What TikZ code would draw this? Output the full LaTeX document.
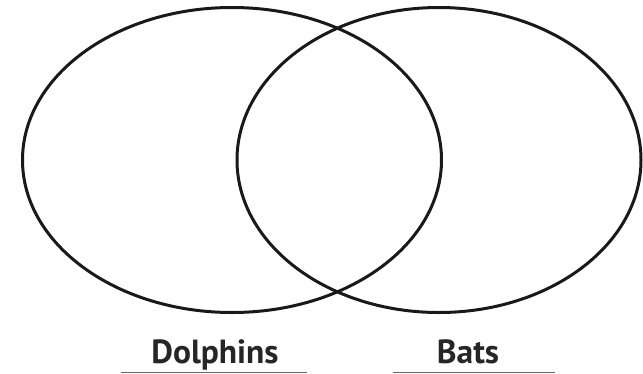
\documentclass[tikz,border=0pt]{standalone}
\usepackage{fontspec}
\setmainfont{PT Sans}
\begin{document}
\begin{tikzpicture}[x=1pt,y=-1pt,
  venn/.style={draw=black!90,line width=3pt},
  lbl/.style={font=\bfseries\fontsize{33.5}{35}\selectfont,text=black!85,inner sep=0pt,anchor=base},
  rule/.style={draw=black!60,line width=1pt}]
\useasboundingbox (0,0) rectangle (643,373);
\draw[venn] (232,160) ellipse [x radius=209.5, y radius=152.5];
\draw[venn] (439,160) ellipse [x radius=202, y radius=152.5];
\node[lbl] (dol) at (215,363) {Dolphins};
\node[lbl] (bat) at (468,363) {Bats};
\coordinate (d1) at (121,372.2);
\coordinate (d2) at (307,372.2);
\coordinate (b1) at (393,372.2);
\coordinate (b2) at (555,372.2);
\draw[rule] (d1) -- (d2);
\draw[rule] (b1) -- (b2);
\end{tikzpicture}
\end{document}
